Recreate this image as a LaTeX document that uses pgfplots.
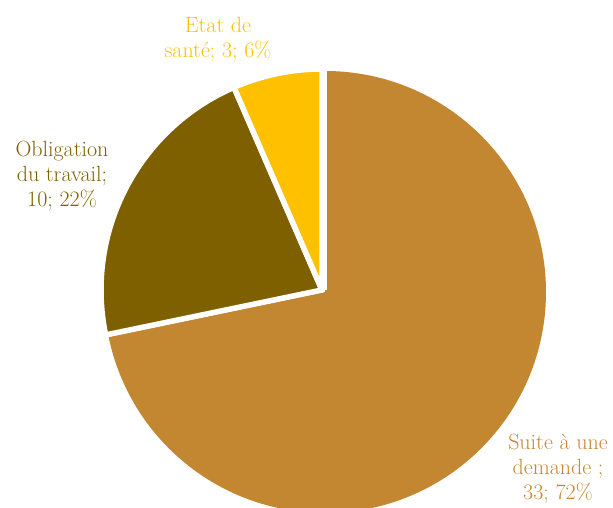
\documentclass[border=0pt]{standalone}
\usepackage{pgfplots}
\pgfplotsset{compat=1.18}
\definecolor{cSuite}{RGB}{196,135,49}
\definecolor{cOblig}{RGB}{127,96,0}
\definecolor{cEtat}{RGB}{255,192,0}
\begin{document}
\begin{tikzpicture}
% valeurs
\def\vSuite{33}
\def\vOblig{10}
\def\vEtat{3}
\pgfmathsetmacro\tot{\vSuite+\vOblig+\vEtat}
\pgfmathsetmacro\aA{90-360*\vSuite/\tot}
\pgfmathsetmacro\aB{\aA-360*\vOblig/\tot}
\def\R{221pt}
\begin{axis}[x=1pt, y=1pt, xmin=0, xmax=613, ymin=0, ymax=508,
  hide axis, clip=false]
\fill[cSuite] (axis cs:325,216) -- ++(90:\R) arc[start angle=90, end angle=\aA, radius=\R] -- cycle;
\filldraw[fill=cOblig, draw=white, line width=5.5pt, line join=round] (axis cs:322,218) -- ++(\aA:\R) arc[start angle=\aA, end angle=\aB, radius=\R] -- cycle;
\filldraw[fill=cEtat, draw=white, line width=5.5pt, line join=round] (axis cs:322,218) -- ++(\aB:\R) arc[start angle=\aB, end angle=-270, radius=\R] -- cycle;
\draw[white, line width=6pt] (axis cs:324,218) -- ++(90:\R+3pt);
\begin{scope}[every node/.style={align=center, font=\fontsize{22}{25}\selectfont}]
\node[text=cEtat] at (axis cs:218,468) {Etat de\\santé;\ 3; 6\%};
\node[text=cOblig] at (axis cs:62,332) {Obligation\\du travail;\\10; 22\%};
\node[text=cSuite] at (axis cs:558,39) {Suite à une\\demande ;\\33; 72\%};
\end{scope}
\end{axis}
\pgfresetboundingbox
\path (0,0) rectangle (613pt,508pt);
\end{tikzpicture}
\end{document}
